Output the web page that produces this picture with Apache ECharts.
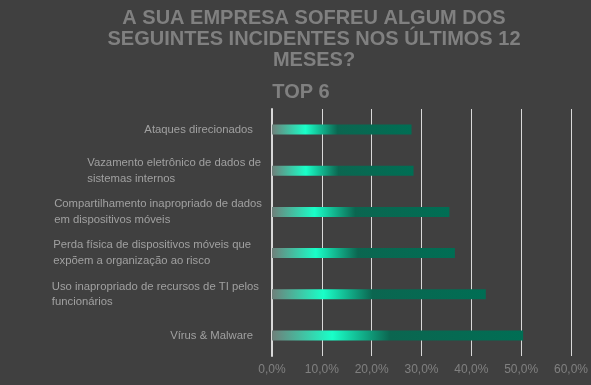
<!DOCTYPE html>
<html>
<head>
<meta charset="utf-8">
<script src="https://cdn.jsdelivr.net/npm/echarts@6/dist/echarts.min.js"></script>
<style>
html,body{margin:0;padding:0;background:#404040;}
#c{width:591px;height:385px;}
</style>
</head>
<body>
<div id="c"></div>
<script>
var categories = [
  "Ataques direcionados",
  "Vazamento eletrônico de dados de\nsistemas internos",
  "Compartilhamento inapropriado de dados\nem dispositivos móveis",
  "Perda física de dispositivos móveis que\nexpõem a organização ao risco",
  "Uso inapropriado de recursos de TI pelos\nfuncionários",
  "Vírus & Malware"
];
var values = [28.0, 28.4, 35.6, 36.7, 42.9, 50.4];
var xTicks = [0, 10, 20, 30, 40, 50, 60];
var titleText = "A SUA EMPRESA SOFREU ALGUM DOS\nSEGUINTES INCIDENTES NOS ÚLTIMOS 12\nMESES?";
var subtitleText = "TOP 6";

// label right-edge offsets (layout only)
var labelPad = [9, 1, 0, 11, 3, 9];

var chart = echarts.init(document.getElementById('c'), null, {renderer:'canvas'});
var grad = new echarts.graphic.LinearGradient(0, 0, 1, 0, [
  {offset: 0, color: '#6f7f7a'},
  {offset: 0.24, color: '#19ffc8'},
  {offset: 0.47, color: '#0b6650'},
  {offset: 1, color: '#006e54'}
]);
var rich = {};
labelPad.forEach(function(p, i){
  rich['p' + i] = {align: 'left', color: '#a0a0a0', fontFamily: 'Liberation Sans', fontSize: 11.3, lineHeight: 15.5, padding: [0, p, 0, 0]};
});
chart.setOption({
  backgroundColor: '#404040',
  animation: false,
  title: [
    {text: titleText, left: 309, top: 3, textAlign: 'center',
     textStyle: {color: '#808080', fontFamily: 'Liberation Sans', fontWeight: 'bold', fontSize: 20, lineHeight: 21}},
    {text: subtitleText, left: 296, top: 77, textAlign: 'center',
     textStyle: {color: '#808080', fontFamily: 'Liberation Sans', fontWeight: 'bold', fontSize: 20}}
  ],
  grid: {left: 272, right: 20, top: 109, bottom: 29, containLabel: false},
  xAxis: {
    type: 'value', min: 0, max: 60, interval: 10,
    axisLine: {show: false}, axisTick: {show: false},
    splitLine: {lineStyle: {color: '#d9d9d9', width: 1}},
    axisLabel: {color: '#808080', fontFamily: 'Liberation Sans', fontSize: 12, margin: 8,
      formatter: function(v){ return v.toFixed(1).replace('.', ',') + '%'; }}
  },
  yAxis: {
    type: 'category', data: categories, inverse: true,
    axisLine: {show: true, lineStyle: {color: '#d9d9d9', width: 2}},
    axisTick: {show: false},
    axisLabel: {color: '#a0a0a0', fontFamily: 'Liberation Sans', fontSize: 11.3, margin: 10, lineHeight: 15.5,
      formatter: function(v, idx){ return v.split('\n').map(function(s){return '{p' + idx + '|' + s + '}';}).join('\n'); },
      rich: rich}
  },
  series: [{
    type: 'bar', data: values, barWidth: 10,
    itemStyle: {color: grad}
  }]
});
</script>
</body>
</html>
